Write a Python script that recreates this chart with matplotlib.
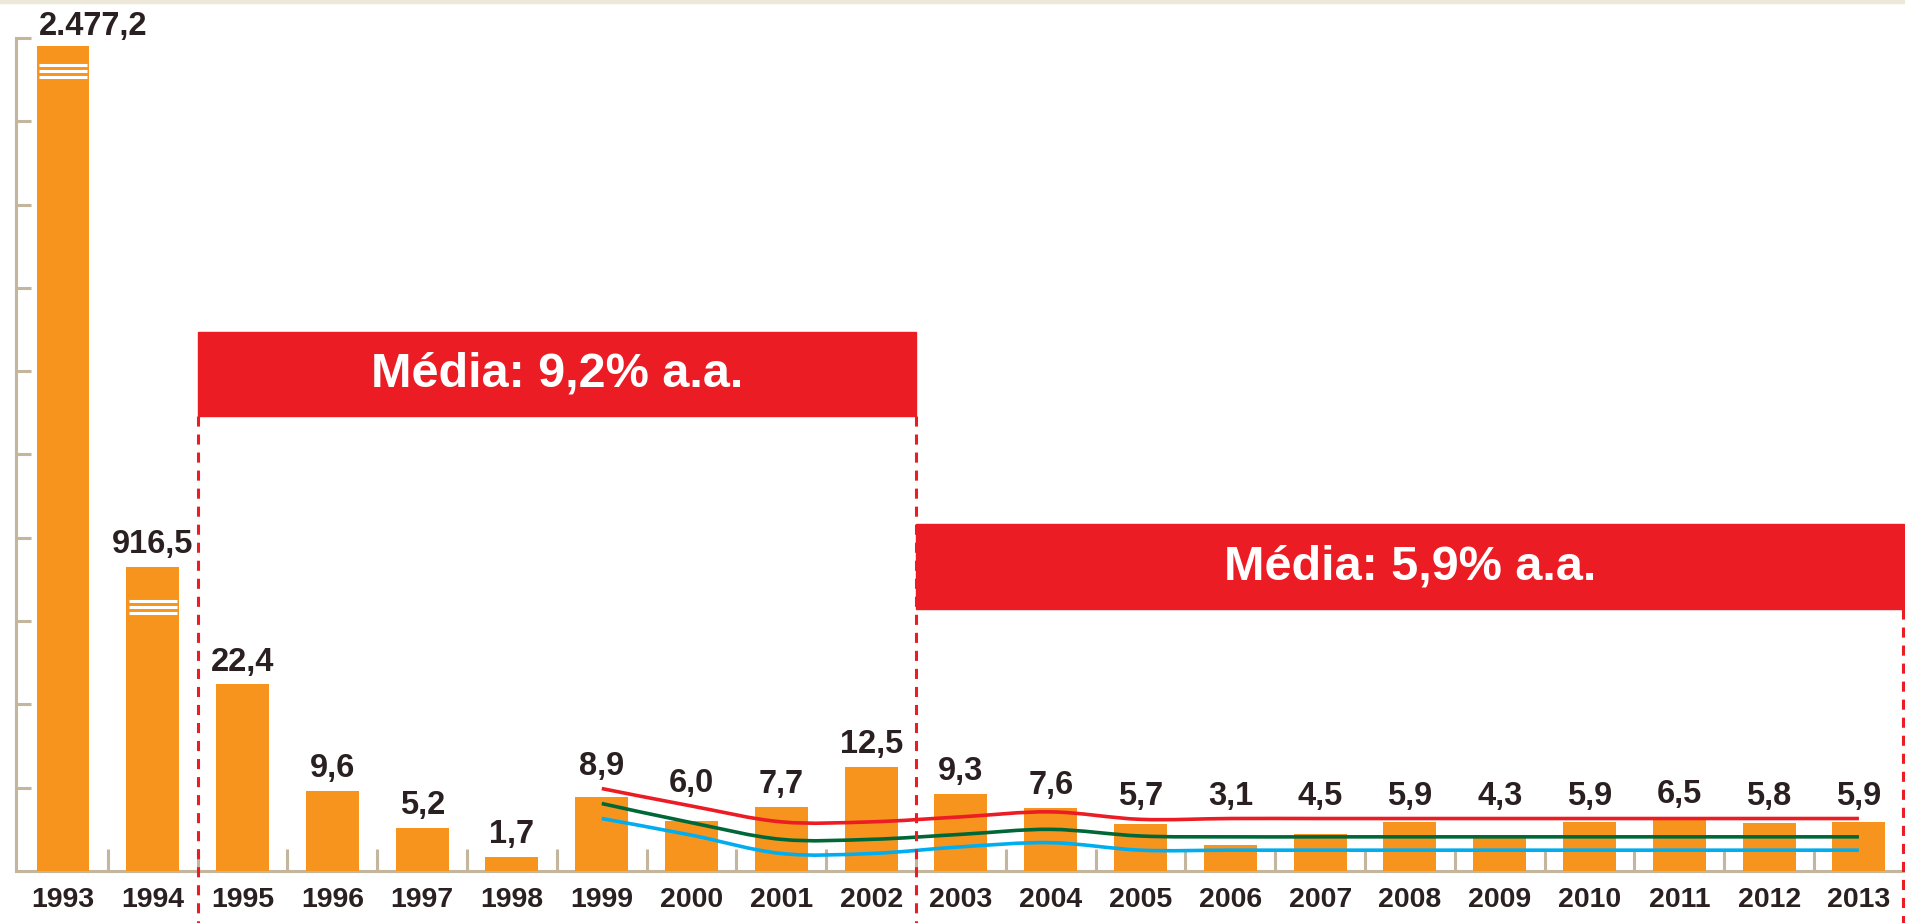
import matplotlib.pyplot as plt
from matplotlib.path import Path
from matplotlib.patches import PathPatch, Rectangle

plt.rcParams['font.family'] = ['Liberation Sans', 'DejaVu Sans']

# dados: IPCA anual (%)
years = list(range(1993, 2014))
ipca = [2477.2, 916.5, 22.4, 9.6, 5.2, 1.7, 8.9, 6.0, 7.7, 12.5, 9.3,
        7.6, 5.7, 3.1, 4.5, 5.9, 4.3, 5.9, 6.5, 5.8, 5.9]
# 1993 e 1994 saem do eixo (0-100), barras cortadas
drawn = [99.0, 36.5] + ipca[2:]

# metas de inflacao
meta_years = list(range(1999, 2014))
upper = [9.9, 7.8, 5.9, 5.9, 6.5, 7.1, 6.2, 6.3, 6.3, 6.3, 6.3, 6.3, 6.3, 6.3, 6.3]
center = [8.1, 5.8, 3.8, 3.8, 4.4, 5.0, 4.2, 4.1, 4.1, 4.1, 4.1, 4.1, 4.1, 4.1, 4.1]
lower = [6.3, 4.3, 2.1, 2.1, 2.9, 3.4, 2.5, 2.5, 2.5, 2.5, 2.5, 2.5, 2.5, 2.5, 2.5]

periods = [(1994.5, 2002.5, 'Média: 9,2% a.a.'),
           (2002.5, 2013.5, 'Média: 5,9% a.a.')]

# cores
orange = '#f7941d'
red = '#ec1c24'
green = '#006838'
blue = '#00aeef'
axis_c = '#c4b59d'
txt_c = '#2b2021'


def fmt(v):
    s = f"{v:,.1f}"
    return s.replace(',', 'X').replace('.', ',').replace('X', '.')


# linha suave (bezier catmull-rom)
def smooth(ax, xs, ys, color):
    verts = [(xs[0], ys[0])]
    codes = [Path.MOVETO]
    n = len(xs)
    for i in range(n - 1):
        x0, y0 = xs[i], ys[i]
        x1, y1 = xs[i + 1], ys[i + 1]
        xa, ya = xs[max(i - 1, 0)], ys[max(i - 1, 0)]
        xb, yb = xs[min(i + 2, n - 1)], ys[min(i + 2, n - 1)]
        verts += [(x0 + (x1 - xa) / 6, y0 + (y1 - ya) / 6),
                  (x1 - (xb - x0) / 6, y1 - (yb - y0) / 6),
                  (x1, y1)]
        codes += [Path.CURVE4] * 3
    ax.add_patch(PathPatch(Path(verts, codes), fc='none', ec=color,
                           lw=2.6, zorder=4, capstyle='butt'))


fig = plt.figure(figsize=(19.05, 9.23), dpi=100)
fig.add_artist(Rectangle((0, 1 - 3 / 923), 1, 3 / 923, transform=fig.transFigure,
                         color='#ede8d8', zorder=0))
ax = fig.add_axes([15.5 / 1905, 52 / 923, 1 - 15.5 / 1905, 833 / 923])
ax.set_xlim(1992.471, 2013.513)
ax.set_ylim(0, 100)

for s in ['top', 'right']:
    ax.spines[s].set_visible(False)
for s in ['left', 'bottom']:
    ax.spines[s].set_color(axis_c)
    ax.spines[s].set_linewidth(2.2)
    ax.spines[s].set_zorder(1)

ax.set_yticks(range(10, 101, 10))
ax.set_xticks([y + 0.5 for y in years[:-1]])
ax.tick_params(axis='y', direction='in', length=11, width=2.2, color=axis_c, labelleft=False)
ax.tick_params(axis='x', direction='in', length=16, width=2.2, color=axis_c, labelbottom=False)

ax.bar(years, drawn, width=0.59, color=orange, zorder=3)

# marcas de corte nas barras 1993 e 1994
for x, h, off in [(1993, drawn[0], 2.3), (1994, drawn[1], 4.1)]:
    for k in range(3):
        ax.hlines(h - off - 0.72 * k, x - 0.27, x + 0.27, color='white', lw=2.2, zorder=3.5)

smooth(ax, meta_years, upper, red)
smooth(ax, meta_years, center, green)
smooth(ax, meta_years, lower, blue)

# rotulos dos valores
for x, v, h in zip(years, ipca, drawn):
    top = h
    if x in meta_years:
        top = max(h, upper[meta_years.index(x)])
    if x == 1993:
        ax.annotate(fmt(v), (x - 0.27, top), xytext=(0, 8), textcoords='offset points',
                    ha='left', va='baseline', fontsize=23.5, fontweight='bold',
                    color=txt_c, zorder=6, annotation_clip=False)
    else:
        ax.annotate(fmt(v), (x, top), xytext=(0, 10), textcoords='offset points',
                    ha='center', va='baseline', fontsize=23.5, fontweight='bold',
                    color=txt_c, zorder=6, annotation_clip=False)
    ax.annotate(str(x), (x, 0), xytext=(0, -26), textcoords='offset points',
                ha='center', va='baseline', fontsize=20.5, fontweight='bold',
                color=txt_c, annotation_clip=False)

# caixas de media
boxes = [(54.6, 64.7), (31.5, 41.6)]
for (x0, x1, label), (y0, y1) in zip(periods, boxes):
    right = min(x1, 2013.513)
    ax.add_patch(Rectangle((x0, y0), right - x0, y1 - y0, color=red,
                           zorder=5, clip_on=False))
    ax.text((x0 + right) / 2, (y0 + y1) / 2, label, ha='center', va='center',
            fontsize=35, fontweight='bold', color='white', zorder=6)

dash_x = [1994.5, 2002.5, 2013.49]
dash_top = [54.6, 54.6, 31.5]
for x, t in zip(dash_x, dash_top):
    ax.plot([x, x], [t, -6.4], color=red, lw=2.2, dashes=(3.3, 2.6),
            zorder=4.5, clip_on=False)

fig.savefig('out.png', dpi=100)
